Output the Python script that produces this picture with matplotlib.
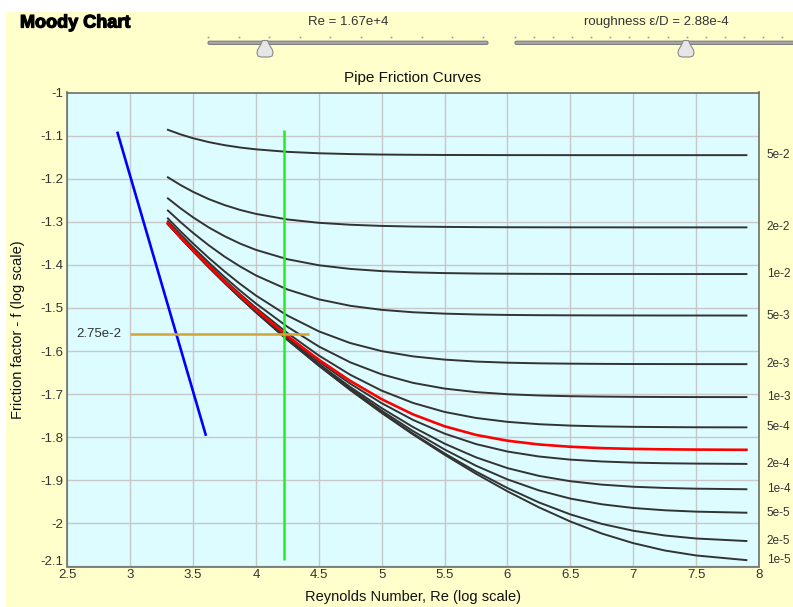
import numpy as np
import matplotlib
matplotlib.use("Agg")
import matplotlib.pyplot as plt
import matplotlib.transforms as mtransforms
import matplotlib.patheffects as pe
from matplotlib.patches import Rectangle, FancyBboxPatch, Polygon

plt.rcParams['font.family'] = ['Liberation Sans', 'DejaVu Sans']

# =============================================================================
# DATA (log10 values)
# =============================================================================
# log10(Re) positions where the friction curves were read
log_re = [3.3, 3.4, 3.5, 3.625, 3.75, 3.875, 4.0, 4.25, 4.5, 4.75, 5.0,
          5.25, 5.5, 5.75, 6.0, 6.25, 6.5, 6.75, 7.0, 7.25, 7.5, 7.9]

rough_labels = ['5e-2', '2e-2', '1e-2', '5e-3', '2e-3', '1e-3',
                '5e-4', '2e-4', '1e-4', '5e-5', '2e-5', '1e-5']

f_5e2 = [-1.0866, -1.0972, -1.1061, -1.1151, -1.1222, -1.1277, -1.1319, -1.1377,
         -1.1410, -1.1429, -1.1440, -1.1446, -1.1450, -1.1451, -1.1453, -1.1453,
         -1.1454, -1.1454, -1.1454, -1.1454, -1.1454, -1.1454]
f_2e2 = [-1.1968, -1.2147, -1.2305, -1.2474, -1.2612, -1.2726, -1.2817, -1.2946,
         -1.3024, -1.3069, -1.3096, -1.3111, -1.3119, -1.3124, -1.3127, -1.3128,
         -1.3129, -1.3129, -1.3130, -1.3130, -1.3130, -1.3130]
f_1e2 = [-1.2457, -1.2687, -1.2897, -1.3132, -1.3334, -1.3508, -1.3652, -1.3869,
         -1.4009, -1.4094, -1.4145, -1.4174, -1.4191, -1.4201, -1.4206, -1.4209,
         -1.4211, -1.4212, -1.4212, -1.4213, -1.4213, -1.4213]
f_5e3 = [-1.2739, -1.3007, -1.3258, -1.3546, -1.3808, -1.4039, -1.4245, -1.4571,
         -1.4800, -1.4950, -1.5044, -1.5100, -1.5132, -1.5151, -1.5162, -1.5168,
         -1.5171, -1.5173, -1.5174, -1.5175, -1.5175, -1.5176]
f_2e3 = [-1.2923, -1.3221, -1.3504, -1.3839, -1.4152, -1.4444, -1.4712, -1.5176,
         -1.5543, -1.5815, -1.6002, -1.6124, -1.6199, -1.6244, -1.6270, -1.6285,
         -1.6293, -1.6298, -1.6301, -1.6302, -1.6303, -1.6304]
f_1e3 = [-1.2989, -1.3293, -1.3592, -1.3945, -1.4282, -1.4600, -1.4897, -1.5436,
         -1.5894, -1.6262, -1.6541, -1.6739, -1.6871, -1.6953, -1.7002, -1.7031,
         -1.7048, -1.7057, -1.7063, -1.7066, -1.7068, -1.7069]
f_5e4 = [-1.3021, -1.3332, -1.3636, -1.4001, -1.4347, -1.4680, -1.4997, -1.5582,
         -1.6103, -1.6551, -1.6919, -1.7205, -1.7413, -1.7553, -1.7643, -1.7698,
         -1.7730, -1.7749, -1.7759, -1.7765, -1.7769, -1.7771]
f_2e4 = [-1.3041, -1.3358, -1.3665, -1.4035, -1.4390, -1.4732, -1.5060, -1.5678,
         -1.6244, -1.6758, -1.7210, -1.7600, -1.7916, -1.8159, -1.8332, -1.8447,
         -1.8520, -1.8563, -1.8589, -1.8604, -1.8612, -1.8619]
f_1e4 = [-1.3048, -1.3366, -1.3674, -1.4046, -1.4404, -1.4749, -1.5081, -1.5711,
         -1.6296, -1.6835, -1.7325, -1.7765, -1.8149, -1.8467, -1.8717, -1.8897,
         -1.9021, -1.9100, -1.9149, -1.9177, -1.9194, -1.9207]
f_5e5 = [-1.3051, -1.3370, -1.3678, -1.4052, -1.4411, -1.4757, -1.5092, -1.5727,
         -1.6320, -1.6872, -1.7386, -1.7859, -1.8284, -1.8662, -1.8979, -1.9234,
         -1.9424, -1.9556, -1.9642, -1.9695, -1.9727, -1.9752]
f_2e5 = [-1.3053, -1.3372, -1.3681, -1.4055, -1.4415, -1.4763, -1.5098, -1.5737,
         -1.6335, -1.6897, -1.7424, -1.7918, -1.8375, -1.8797, -1.9179, -1.9513,
         -1.9791, -2.0011, -2.0170, -2.0280, -2.0350, -2.0409]
f_1e5 = [-1.3054, -1.3373, -1.3683, -1.4056, -1.4417, -1.4764, -1.5100, -1.5741,
         -1.6341, -1.6905, -1.7437, -1.7938, -1.8407, -1.8848, -1.9255, -1.9627,
         -1.9956, -2.0235, -2.0458, -2.0628, -2.0744, -2.0852]

curves = [f_5e2, f_2e2, f_1e2, f_5e3, f_2e3, f_1e3,
          f_5e4, f_2e4, f_1e4, f_5e5, f_2e5, f_1e5]

# selected roughness (eps/D = 2.88e-4), drawn in red
f_sel = [-1.3034, -1.3352, -1.3656, -1.4026, -1.4379, -1.4717, -1.5041, -1.5650,
         -1.6201, -1.6693, -1.7118, -1.7471, -1.7746, -1.7946, -1.8081, -1.8168,
         -1.8221, -1.8253, -1.8271, -1.8281, -1.8287, -1.8292]

# laminar line
lam_x = [2.9, 3.6]
lam_y = [-1.0938, -1.7938]

# current operating point
re_now = 4.2227          # log10(1.67e+4)
f_now = -1.5607          # log10(2.75e-2)
f_now_label = '2.75e-2'
re_text = 'Re = 1.67e+4'
rough_text = 'roughness \u03b5/D = 2.88e-4'

x_ticks = [2.5, 3, 3.5, 4, 4.5, 5, 5.5, 6, 6.5, 7, 7.5, 8]
y_ticks = [-2.1, -2, -1.9, -1.8, -1.7, -1.6, -1.5, -1.4, -1.3, -1.2, -1.1, -1]

# =============================================================================
# FIGURE
# =============================================================================
W, H = 793, 607
fig = plt.figure(figsize=(W / 100, H / 100), dpi=100, facecolor='white')

# background / UI layer in pixel coordinates
ui = fig.add_axes([0, 0, 1, 1], zorder=0)
ui.set_xlim(0, W)
ui.set_ylim(H, 0)
ui.axis('off')
ui.add_patch(Rectangle((6, 12), W, H, facecolor='#FFFFCC', edgecolor='none'))

ui.text(20, 23, 'Moody Chart', fontsize=13, fontweight='bold', va='center',
        ha='left', color='black',
        path_effects=[pe.withStroke(linewidth=0.9, foreground='black')])
ui.text(348, 22, re_text, fontsize=9.5, ha='center', va='center', color='#333333')
ui.text(656, 22, rough_text, fontsize=9.5, ha='center', va='center', color='#333333')


def draw_slider(x0, x1, ticks, thumb):
    for t in ticks:
        ui.plot(t, 37, marker='s', ms=1.2, color='#999999', mec='none')
    ui.add_patch(FancyBboxPatch((x0, 41.2), x1 - x0, 3.2,
                                boxstyle='round,pad=0,rounding_size=1.6',
                                facecolor='#A9A9A9', edgecolor='#7A7A7A', lw=0.8))
    tx = np.array([-2.5, 2.5, 4.5, 7.5, 8, 7, 4, -4, -7, -8, -7.5, -4.5]) + thumb
    ty = np.array([40.5, 40.5, 45, 50, 53, 56, 57, 57, 56, 53, 50, 45])
    ui.add_patch(Polygon(np.column_stack([tx, ty]), closed=True,
                         facecolor='#E6E6E6', edgecolor='#8A8A8A', lw=0.8))


draw_slider(208, 488, np.linspace(208, 483, 10), 265)
draw_slider(515, 800, np.arange(515, 793, 19.07), 686)

ui.text(413, 78, 'Pipe Friction Curves', fontsize=11, ha='center', va='center',
        color='#111111')
ui.text(18, 330, 'Friction factor - f (log scale)', fontsize=10.5, rotation=90,
        ha='center', va='center', color='#111111')
ui.text(413, 597, 'Reynolds Number, Re (log scale)', fontsize=10.5,
        ha='center', va='center', color='#111111')

# main plot
ax = fig.add_axes([67.3 / W, 1 - 566.5 / H, (759 - 67.3) / W, (566.5 - 92.5) / H],
                  zorder=1)
ax.set_facecolor('#DDFCFF')
ax.set_xlim(2.5, 8)
ax.set_ylim(-2.1, -1)
ax.set_xticks(x_ticks)
ax.set_xticklabels([f'{v:g}' for v in x_ticks])
ax.set_yticks(y_ticks)
ax.set_yticklabels([f'{v:g}' for v in y_ticks])
ax.tick_params(length=0, labelsize=9.5, colors='#333333')
ax.tick_params(axis='x', pad=2)
ax.tick_params(axis='y', pad=3)
ax.grid(True, color='#C8C8C8', lw=1)
ax.set_axisbelow(True)
for s in ax.spines.values():
    s.set_color('#6E6E6E')
    s.set_linewidth(1.2)

# lift the bottom y label a little so it clears the first x label
lift = mtransforms.ScaledTranslation(0, 4 / 72, fig.dpi_scale_trans)
ylabs = ax.get_yticklabels()
ylabs[0].set_transform(ylabs[0].get_transform() + lift)

for ys in curves:
    ax.plot(log_re, ys, color='#333333', lw=1.4, solid_joinstyle='round', zorder=3)
ax.plot(log_re, f_sel, color='#FF0000', lw=1.9, solid_joinstyle='round', zorder=4)

ax.plot(lam_x, lam_y, color='#0000FF', lw=1.9, zorder=4)

all_f = np.concatenate(curves)
ax.vlines(re_now, all_f.min(), all_f.max(), color='#22EE22', lw=1.8, zorder=5)
ax.hlines(f_now, 3.0, re_now + 0.2, color='#D4A437', lw=1.8, zorder=5)
ax.text(2.928, f_now, f_now_label, ha='right', va='center', fontsize=9.5,
        color='#333333')

trans = mtransforms.blended_transform_factory(ax.transAxes, ax.transData)
for lab, ys in zip(rough_labels, curves):
    ax.text(1.011, ys[-1], lab, transform=trans, ha='left', va='center',
            fontsize=8.5, color='#333333', clip_on=False)

fig.savefig('out.png', dpi=100, facecolor=fig.get_facecolor())
